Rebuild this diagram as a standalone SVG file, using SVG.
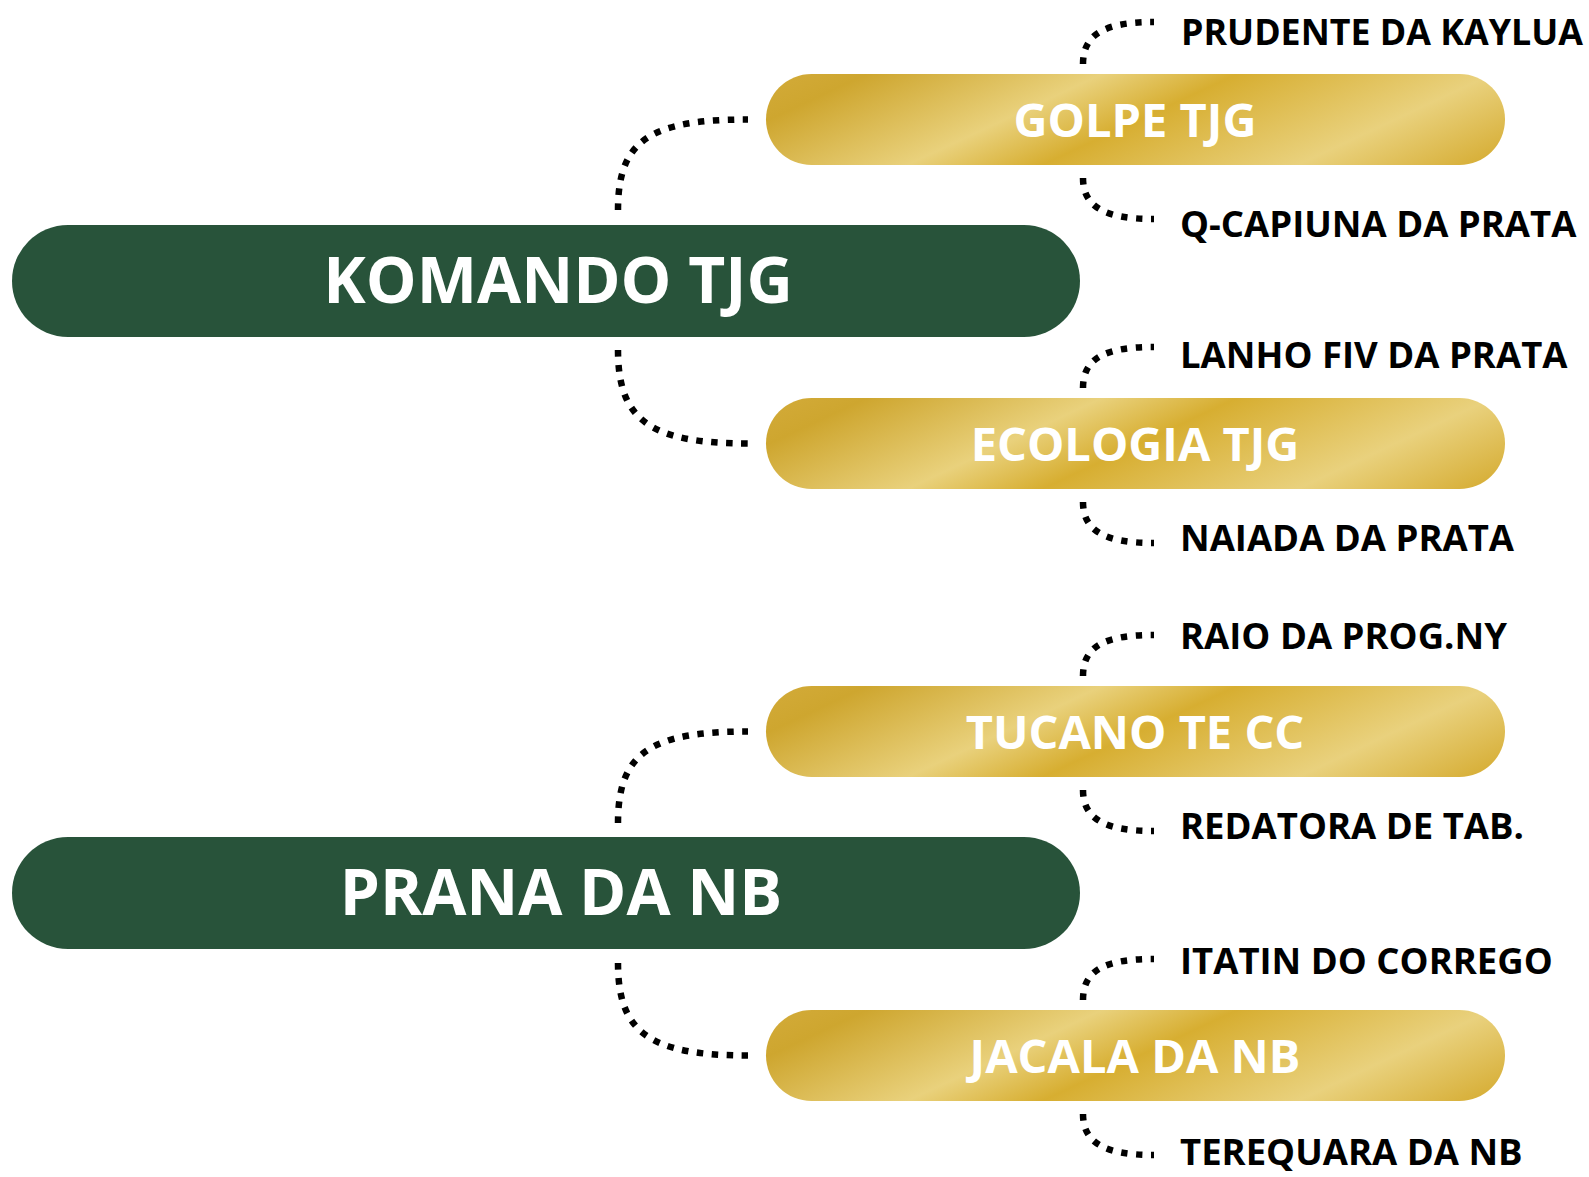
<svg xmlns="http://www.w3.org/2000/svg" width="1589" height="1177" viewBox="0 0 1589 1177">
  <defs>
    <linearGradient id="gold" gradientUnits="userSpaceOnUse" x1="0" y1="0" x2="167.7" y2="359">
      <stop offset="0" stop-color="#D3AB3A"/>
      <stop offset="0.108" stop-color="#CEA62F"/>
      <stop offset="0.359" stop-color="#E9D17C"/>
      <stop offset="0.503" stop-color="#D7AE31"/>
      <stop offset="0.776" stop-color="#E9D17D"/>
      <stop offset="1" stop-color="#D4A92C"/>
    </linearGradient>
    <style>
      .main { fill: #28533A; }
      .sub { fill: url(#gold); }
      .mainText { font-family: "Open Sans", "Noto Sans", sans-serif; font-weight: 700; font-size: 64px; fill: #FFFFFF; text-anchor: middle; }
      .subText { font-family: "Open Sans", "Noto Sans", sans-serif; font-weight: 700; font-size: 47px; fill: #FFFFFF; text-anchor: middle; }
      .leaf { font-family: "Open Sans", "Noto Sans", sans-serif; font-weight: 700; font-size: 36.5px; fill: #000000; }
      .dot { fill: none; stroke: #000000; stroke-width: 6.5; stroke-dasharray: 6.5 8.5; }
    </style>
  </defs>
  <rect width="1589" height="1177" fill="#FFFFFF"/>

  <g id="connectors">
    <path class="dot" d="M618,210 C618,140 650,119.5 748,119.5"/>
    <path class="dot" d="M618,350 C618,420 650,443.5 748,443.5"/>
    <path class="dot" d="M618,823 C618,753 650,731.5 748,731.5"/>
    <path class="dot" d="M618,963 C618,1033 650,1055.5 748,1055.5"/>

    <path class="dot" d="M1083,64 C1083,34 1105,22 1154,22"/>
    <path class="dot" d="M1083,178 C1083,207 1105,219 1154,219"/>
    <path class="dot" d="M1083,388 C1083,358 1105,347 1154,347"/>
    <path class="dot" d="M1083,502 C1083,531 1105,543 1154,543"/>
    <path class="dot" d="M1083,676 C1083,646 1105,635 1154,635"/>
    <path class="dot" d="M1083,790 C1083,819 1105,831 1154,831"/>
    <path class="dot" d="M1083,1000 C1083,970 1105,959 1154,959"/>
    <path class="dot" d="M1083,1114 C1083,1143 1105,1155 1154,1155"/>
  </g>

  <g id="komando">
    <rect class="main" x="12" y="225" width="1068" height="112" rx="56" ry="56"/>
    <text class="mainText" x="558" y="303">KOMANDO TJG</text>
  </g>
  <g id="prana">
    <rect class="main" x="12" y="837" width="1068" height="112" rx="56" ry="56"/>
    <text class="mainText" x="561" y="915">PRANA DA NB</text>
  </g>

  <g id="golpe" transform="translate(766,74)">
    <rect class="sub" x="0" y="0" width="739" height="91" rx="45.5" ry="45.5"/>
    <text class="subText" x="369" y="63">GOLPE TJG</text>
  </g>
  <g id="ecologia" transform="translate(766,398)">
    <rect class="sub" x="0" y="0" width="739" height="91" rx="45.5" ry="45.5"/>
    <text class="subText" x="369" y="63">ECOLOGIA TJG</text>
  </g>
  <g id="tucano" transform="translate(766,686)">
    <rect class="sub" x="0" y="0" width="739" height="91" rx="45.5" ry="45.5"/>
    <text class="subText" x="369" y="63">TUCANO TE CC</text>
  </g>
  <g id="jacala" transform="translate(766,1010)">
    <rect class="sub" x="0" y="0" width="739" height="91" rx="45.5" ry="45.5"/>
    <text class="subText" x="369" y="63">JACALA DA NB</text>
  </g>

  <g id="prudente"><text class="leaf" x="1181" y="45" textLength="402" lengthAdjust="spacingAndGlyphs">PRUDENTE DA KAYLUA</text></g>
  <g id="qcapiuna"><text class="leaf" x="1180" y="237">Q-CAPIUNA DA PRATA</text></g>
  <g id="lanho"><text class="leaf" x="1180" y="368">LANHO FIV DA PRATA</text></g>
  <g id="naiada"><text class="leaf" x="1180" y="551">NAIADA DA PRATA</text></g>
  <g id="raio"><text class="leaf" x="1180" y="649">RAIO DA PROG.NY</text></g>
  <g id="redatora"><text class="leaf" x="1180" y="839">REDATORA DE TAB.</text></g>
  <g id="itatin"><text class="leaf" x="1180" y="974">ITATIN DO CORREGO</text></g>
  <g id="terequara"><text class="leaf" x="1180" y="1165">TEREQUARA DA NB</text></g>
</svg>
